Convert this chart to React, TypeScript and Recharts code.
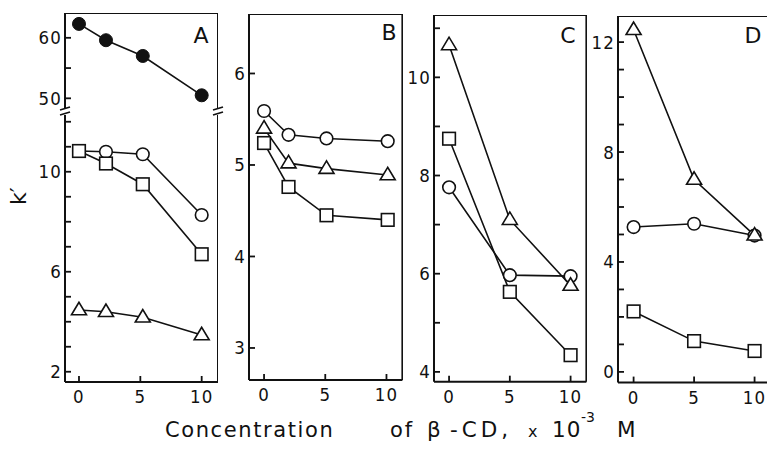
import React from "react";
import { LineChart, Line, XAxis, YAxis, ReferenceLine } from "recharts";

// x positions (×10⁻³ M β-CD) as plotted in each panel
const concA = [0, 2.2, 5.2, 10];
const concB = [0, 2, 5.1, 10.1];
const concCD = [0, 5, 10];

// k' values
const aFilled = [62.3, 59.6, 57.0, 50.5];
const aCircle = [10.83, 10.8, 10.7, 8.27];
const aSquare = [10.83, 10.33, 9.5, 6.7];
const aTriangle = [4.47, 4.4, 4.18, 3.47];

const bCircle = [5.59, 5.33, 5.29, 5.26];
const bTriangle = [5.4, 5.02, 4.96, 4.89];
const bSquare = [5.24, 4.76, 4.45, 4.4];

const cTriangle = [10.66, 7.1, 5.76];
const cSquare = [8.75, 5.63, 4.34];
const cCircle = [7.76, 5.97, 5.95];

const dTriangle = [12.45, 7.0, 4.97];
const dCircle = [5.27, 5.39, 4.96];
const dSquare = [2.2, 1.12, 0.76];

const xTicks = [0, 5, 10];
const aTopTicks = [50, 55, 60];
const aTopLabels = [50, 60];
const aBotTicks = [2, 3, 4, 5, 6, 7, 8, 9, 10, 11, 12];
const aBotLabels = [2, 6, 10];
const bTicks = [3, 4, 5, 6];
const cTicks = [4, 5, 6, 7, 8, 9, 10, 11];
const cLabels = [4, 6, 8, 10];
const dTicks = [0, 1, 2, 3, 4, 5, 6, 7, 8, 9, 10, 11, 12];
const dLabels = [0, 4, 8, 12];

const INK = "#111";
const TICK_FONT = "'DejaVu Sans Condensed', 'DejaVu Sans', sans-serif";
const TEXT_FONT = "'DejaVu Sans', sans-serif";
const YW = 50;
const XH = 40;

const table = (xs: number[], cols: Record<string, number[]>) =>
  xs.map((x, i) => {
    const row: Record<string, number> = { x };
    Object.keys(cols).forEach((k) => (row[k] = cols[k][i]));
    return row;
  });

function Marker(props: any) {
  const { cx, cy, kind, index } = props;
  if (cx == null || cy == null) return null;
  const key = `${kind}-${index}`;
  if (kind === "filled")
    return <circle key={key} cx={cx} cy={cy} r={6.5} fill={INK} stroke={INK} />;
  if (kind === "circle")
    return <circle key={key} cx={cx} cy={cy} r={6.3} fill="#fff" stroke={INK} strokeWidth={1.6} />;
  if (kind === "square")
    return <rect key={key} x={cx - 6.3} y={cy - 6.3} width={12.6} height={12.6} fill="#fff" stroke={INK} strokeWidth={1.6} />;
  const h = 12.5;
  const w = 7.5;
  return (
    <polygon
      key={key}
      points={`${cx},${cy - h * 0.62} ${cx - w},${cy + h * 0.38} ${cx + w},${cy + h * 0.38}`}
      fill="#fff"
      stroke={INK}
      strokeWidth={1.6}
    />
  );
}

function YTick(props: any) {
  const { x, y, payload, labels } = props;
  const show = labels.includes(payload.value);
  return (
    <g>
      <line x1={x} x2={x + 6} y1={y} y2={y} stroke={INK} strokeWidth={1.8} />
      {show && (
        <text x={x - 3} y={y} dy={6.5} textAnchor="end" fontSize={18.5} letterSpacing={1.2}
          fontFamily={TICK_FONT} fill={INK}>
          {payload.value}
        </text>
      )}
    </g>
  );
}

function XTick(props: any) {
  const { x, y, payload } = props;
  return (
    <g>
      <line x1={x} x2={x} y1={y} y2={y - 6} stroke={INK} strokeWidth={1.8} />
      <text x={x} y={y + 21} textAnchor="middle" fontSize={18.5} letterSpacing={1.2}
        fontFamily={TICK_FONT} fill={INK}>
        {payload.value}
      </text>
    </g>
  );
}

type SeriesDef = { key: string; kind: string };

function Panel(props: {
  left: number;
  top: number;
  width: number;
  height: number;
  data: Record<string, number>[];
  series: SeriesDef[];
  xDomain: [number, number];
  yDomain: [number, number];
  yTicks: number[];
  yLabels: number[];
  showX: boolean;
  topLine: boolean;
  rightLine: boolean;
}) {
  const p = props;
  return (
    <div style={{ position: "absolute", left: p.left - YW, top: p.top }}>
      <LineChart
        width={p.width + YW}
        height={p.height + (p.showX ? XH : 0)}
        data={p.data}
        margin={{ top: 0, right: 0, bottom: 0, left: 0 }}
      >
        <XAxis
          type="number"
          dataKey="x"
          domain={p.xDomain}
          ticks={xTicks}
          hide={!p.showX}
          height={XH}
          tickSize={0}
          tickMargin={0}
          tickLine={false}
          axisLine={{ stroke: INK, strokeWidth: 2 }}
          tick={<XTick />}
          allowDataOverflow
        />
        <YAxis
          type="number"
          domain={p.yDomain}
          ticks={p.yTicks}
          width={YW}
          tickSize={0}
          tickMargin={0}
          tickLine={false}
          interval={0}
          axisLine={{ stroke: INK, strokeWidth: 2 }}
          tick={<YTick labels={p.yLabels} />}
          allowDataOverflow
        />
        {p.topLine && <ReferenceLine y={p.yDomain[1]} stroke={INK} strokeWidth={2} />}
        {p.rightLine && <ReferenceLine x={p.xDomain[1]} stroke={INK} strokeWidth={2} />}
        {p.series.map((s) => (
          <Line
            key={s.key}
            dataKey={s.key}
            stroke={INK}
            strokeWidth={1.6}
            isAnimationActive={false}
            dot={(dp: any) => <Marker {...dp} kind={s.kind} />}
            activeDot={false}
          />
        ))}
      </LineChart>
    </div>
  );
}

function BreakMark({ x, y }: { x: number; y: number }) {
  return (
    <g stroke={INK} strokeWidth={1.6}>
      <line x1={x} x2={x} y1={y - 3} y2={y + 4} stroke="#fff" strokeWidth={4} />
      <line x1={x - 5} x2={x + 5} y1={y - 1} y2={y - 4} />
      <line x1={x - 5} x2={x + 5} y1={y + 4} y2={y + 1} />
    </g>
  );
}

export default function App() {
  const dataATop = table(concA, { filled: aFilled });
  const dataABot = table(concA, { circle: aCircle, square: aSquare, triangle: aTriangle });
  const dataB = table(concB, { circle: bCircle, triangle: bTriangle, square: bSquare });
  const dataC = table(concCD, { triangle: cTriangle, square: cSquare, circle: cCircle });
  const dataD = table(concCD, { triangle: dTriangle, circle: dCircle, square: dSquare });
  const open: SeriesDef[] = [
    { key: "circle", kind: "circle" },
    { key: "square", kind: "square" },
    { key: "triangle", kind: "triangle" },
  ];
  const letter = (t: string, x: number, y: number) => (
    <text x={x} y={y + 8} textAnchor="middle" fontFamily={TEXT_FONT} fontSize={22} fill={INK}>
      {t}
    </text>
  );
  const base = 437;
  return (
    <div
      style={{
        position: "absolute",
        left: 0,
        top: 0,
        width: 767,
        height: 449,
        overflow: "hidden",
        background: "#fff",
      }}
    >
      <Panel left={65} top={13} width={153} height={95} data={dataATop}
        series={[{ key: "filled", kind: "filled" }]} xDomain={[-1.14, 11.33]} yDomain={[48.4, 64.1]}
        yTicks={aTopTicks} yLabels={aTopLabels} showX={false} topLine rightLine />
      <Panel left={65} top={114} width={153} height={268} data={dataABot}
        series={open} xDomain={[-1.14, 11.33]} yDomain={[1.59, 12.31]}
        yTicks={aBotTicks} yLabels={aBotLabels} showX topLine={false} rightLine />
      <Panel left={249.3} top={14} width={153.4} height={366} data={dataB}
        series={open} xDomain={[-1.23, 11.3]} yDomain={[2.65, 6.65]}
        yTicks={bTicks} yLabels={bTicks} showX topLine rightLine />
      <Panel left={434.3} top={15} width={152.4} height={366.7} data={dataC}
        series={open} xDomain={[-1.24, 11.3]} yDomain={[3.8, 11.27]}
        yTicks={cTicks} yLabels={cLabels} showX topLine rightLine />
      <Panel left={617.7} top={15.7} width={152.3} height={366.6} data={dataD}
        series={open} xDomain={[-1.29, 11.3]} yDomain={[-0.39, 12.95]}
        yTicks={dTicks} yLabels={dLabels} showX topLine rightLine />

      <svg width={767} height={449} style={{ position: "absolute", left: 0, top: 0, pointerEvents: "none" }}>
        <BreakMark x={65} y={111} />
        <BreakMark x={218} y={111} />

        {letter("A", 201, 35)}
        {letter("B", 389, 32)}
        {letter("C", 568, 35)}
        {letter("D", 753, 35)}

        <text x={0} y={0} transform="translate(26 196) rotate(-90)" textAnchor="middle"
          fontFamily={TEXT_FONT} fontSize={22} fill={INK}>
          k′
        </text>

        <g fontFamily={TEXT_FONT} fill={INK}>
          <text x={165} y={base} fontSize={21} letterSpacing={1.6}>Concentration</text>
          <text x={390} y={base} fontSize={21} letterSpacing={2}>of</text>
          <text x={427} y={base} fontSize={21.5}>β</text>
          <text x={450} y={base} fontSize={21.5} letterSpacing={4}>-CD,</text>
          <text x={528} y={base} fontSize={16}>x</text>
          <text x={552} y={base} fontSize={21.5} letterSpacing={1}>10</text>
          <text x={581} y={base - 15} fontSize={14}>-3</text>
          <text x={617} y={base} fontSize={21.5}>M</text>
        </g>
      </svg>
    </div>
  );
}
